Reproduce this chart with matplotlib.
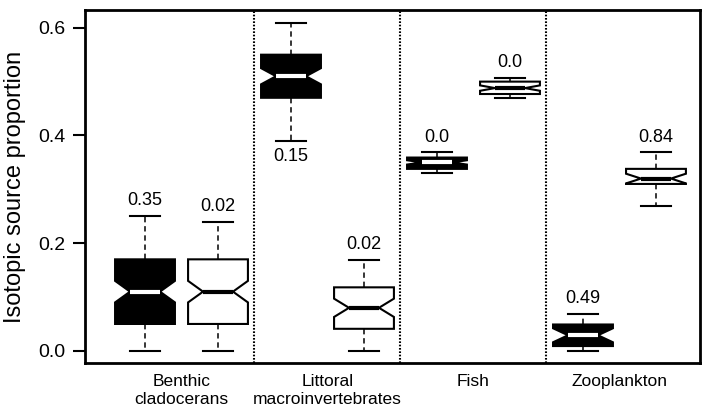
import numpy as np
import matplotlib.pyplot as plt

plt.rcParams['font.family'] = ['Liberation Sans', 'DejaVu Sans']

# five-number summaries per box, black/white pairs per consumer group
whislo = [0.000, 0.000, 0.390, 0.000, 0.331, 0.470, 0.000, 0.269]
q1 = [0.050, 0.050, 0.470, 0.041, 0.338, 0.477, 0.009, 0.310]
med = [0.110, 0.110, 0.510, 0.080, 0.350, 0.488, 0.029, 0.320]
q3 = [0.170, 0.170, 0.550, 0.118, 0.359, 0.500, 0.049, 0.338]
whishi = [0.251, 0.240, 0.609, 0.169, 0.369, 0.507, 0.069, 0.369]
notch_half = [0.020, 0.020, 0.015, 0.017, 0.004, 0.005, 0.013, 0.009]
filled = [True, False, True, False, True, False, True, False]

box_labels = ["0.35", "0.02", "0.15", "0.02", "0.0", "0.0", "0.49", "0.84"]
label_below = [False, False, True, False, False, False, False, False]

groups = ["Benthic\ncladocerans", "Littoral\nmacroinvertebrates", "Fish", "Zooplankton"]
yticks = [0.0, 0.2, 0.4, 0.6]

fig = plt.figure(figsize=(7.05, 4.09), dpi=100)
ax = fig.add_axes([85 / 705, 1 - 363 / 409, 615 / 705, 353 / 409])

positions = np.arange(1, len(med) + 1)
for i, p in enumerate(positions):
    st = dict(whislo=whislo[i], q1=q1[i], med=med[i], q3=q3[i], whishi=whishi[i],
              cilo=med[i] - notch_half[i], cihi=med[i] + notch_half[i], fliers=[])
    face = 'black' if filled[i] else 'white'
    medc = 'white' if filled[i] else 'black'
    ax.bxp([st], positions=[p], widths=0.82, shownotches=True, patch_artist=True,
           showfliers=False, manage_ticks=False,
           boxprops=dict(facecolor=face, edgecolor='black', linewidth=1.5),
           medianprops=dict(color=medc, linewidth=3, solid_capstyle='butt'),
           whiskerprops=dict(color='black', linewidth=1.1, linestyle=(0, (3.5, 2.5))),
           capprops=dict(color='black', linewidth=1.5))
    if label_below[i]:
        ax.text(p, whislo[i] - 0.014, box_labels[i], ha='center', va='top', fontsize=13)
    else:
        ax.text(p, whishi[i] + 0.012, box_labels[i], ha='center', va='bottom', fontsize=13)

# dotted separators between consumer groups
for x in [2.5, 4.5, 6.5]:
    ax.axvline(x, color='black', linewidth=1.5, linestyle=(0, (0.8, 0.8)))

ax.set_xlim(0.178, 8.603)
ax.set_ylim(-0.0225, 0.633)
ax.set_yticks(yticks)
ax.set_yticklabels([f"{v:.1f}" for v in yticks], fontsize=14)
ax.set_xticks([1.5, 3.5, 5.5, 7.5])
ax.set_xticklabels(groups, fontsize=12.5, linespacing=1.2, va='top')
ax.tick_params(axis='x', length=0, pad=8)
ax.tick_params(axis='y', length=9, width=1.5, pad=5)
ax.set_ylabel("Isotopic source proportion", fontsize=17, labelpad=9)
for s in ax.spines.values():
    s.set_linewidth(2)

fig.savefig("out.png", dpi=100)
